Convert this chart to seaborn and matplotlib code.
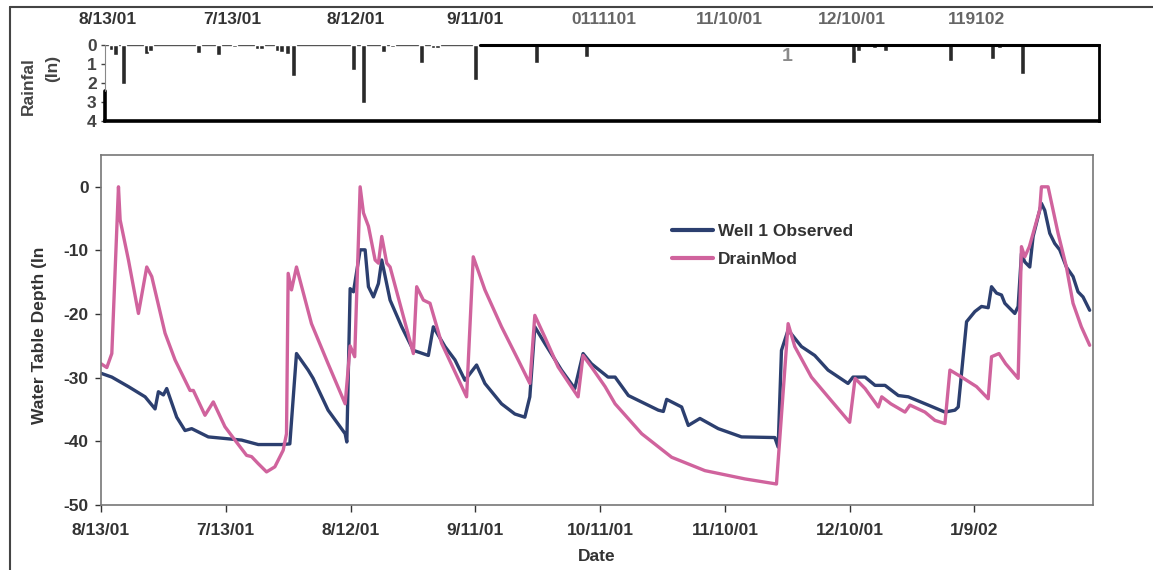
import matplotlib
matplotlib.use("Agg")
import matplotlib.pyplot as plt
from matplotlib.lines import Line2D
import numpy as np
import pandas as pd
import seaborn as sns

# ---- daily rainfall (inches), day index from start of record ----
rain_day = [2.5, 3.5, 5.5, 11, 12, 23.5, 28.3, 32, 37.5, 38.5, 42.5, 43.5, 44.8, 46.2,
            60.8, 63, 68, 70, 77, 80, 81, 90, 104.6, 116.8, 125,
            181, 182, 186, 188.5, 194.5, 204.3, 214.2, 216, 221.4]
rain_in = [0.25, 0.5, 2.05, 0.45, 0.3, 0.4, 0.55, 0.1, 0.2, 0.2, 0.3, 0.35, 0.45, 1.65,
           1.3, 3.05, 0.35, 0.1, 0.95, 0.15, 0.15, 1.85, 0.95, 0.65, 0.1,
           0.95, 0.3, 0.15, 0.3, 0.1, 0.85, 0.75, 0.15, 1.5]

# ---- observed water table depth, Well 1 (in) ----
obs_day = [0, 2.6, 6.6, 10.6, 13.0, 13.8, 15.0, 15.8, 18.2, 20.2, 21.8, 25.8, 30.6, 33.8,
           37.8, 43.4, 45.4, 47.0, 49.8, 51.0, 54.6, 58.7, 59.1, 59.9, 60.7, 62.3, 63.5,
           64.3, 65.5, 66.7, 67.5, 69.5, 72.3, 75.1, 78.7, 79.9, 82.7, 85.1, 87.5, 90.3,
           92.3, 96.3, 99.5, 101.9, 103.1, 104.3, 106.7, 110.7, 113.9, 115.9, 117.9,
           121.9, 123.6, 126.8, 134.0, 135.2, 136.0, 139.6, 141.2, 144.0, 148.4, 154.0,
           162.0, 162.8, 163.6, 165.2, 168.4, 171.6, 174.8, 179.6, 180.8, 183.7, 186.1,
           188.5, 191.7, 194.1, 198.9, 202.9, 205.3, 206.1, 208.1, 210.1, 211.7, 213.3,
           214.1, 215.3, 216.5, 217.3, 219.7, 220.5, 221.3, 222.1, 223.3, 224.1, 226.1,
           226.9, 228.1, 229.3, 230.5, 232.1, 233.7, 234.9, 236.1, 237.7]
obs_depth = [-29.3, -29.9, -31.4, -33.0, -34.9, -32.2, -32.7, -31.7, -36.2, -38.3, -38.0,
             -39.3, -39.6, -39.8, -40.5, -40.5, -40.4, -26.2, -28.8, -30.1, -35.1, -38.8,
             -40.1, -16.0, -16.5, -9.9, -9.9, -15.7, -17.3, -15.2, -11.5, -17.8, -22.0,
             -25.7, -26.5, -22.0, -25.1, -27.2, -30.4, -28.0, -30.9, -34.1, -35.7, -36.2,
             -33.0, -22.0, -24.6, -28.8, -31.7, -26.2, -27.8, -29.9, -29.9, -32.8, -35.1,
             -35.3, -33.4, -34.6, -37.5, -36.4, -38.0, -39.3, -39.4, -40.9, -25.7, -22.5,
             -25.1, -26.5, -28.8, -30.9, -29.9, -29.9, -31.2, -31.2, -32.8, -33.0, -34.3,
             -35.4, -35.1, -34.6, -21.2, -19.6, -18.8, -19.0, -15.7, -16.7, -17.0, -18.3,
             -19.9, -18.8, -10.5, -11.8, -12.6, -7.8, -2.6, -3.7, -7.3, -8.9, -9.9, -12.6,
             -14.1, -16.5, -17.3, -19.4]

# ---- DrainMod simulated water table depth (in) ----
sim_day = [0, 1.4, 2.6, 4.2, 4.6, 6.6, 9.0, 11.0, 12.2, 15.4, 17.8, 21.4, 22.2, 25.0, 27.0,
           29.8, 32.2, 35.0, 36.2, 37.8, 39.8, 41.8, 43.8, 44.6, 45.0, 45.8, 47.0, 50.6,
           54.6, 58.7, 59.9, 61.0, 62.3, 63.1, 64.3, 65.9, 66.7, 67.5, 68.7, 69.5, 75.1,
           75.9, 77.5, 79.1, 81.9, 87.9, 89.5, 92.3, 96.3, 100.3, 103.1, 104.3, 106.7,
           109.9, 114.7, 115.9, 117.9, 121.2, 123.6, 130.0, 137.2, 145.2, 154.8, 162.4,
           165.2, 166.8, 170.8, 174.8, 180.0, 181.3, 183.7, 186.9, 187.7, 189.9, 193.3,
           194.5, 198.1, 200.5, 202.9, 204.1, 206.9, 210.5, 213.3, 214.1, 215.9, 217.5,
           220.5, 221.3, 222.1, 223.2, 225.7, 226.1, 227.7, 230.1, 232.1, 233.7, 235.7,
           237.7]
sim_depth = [-27.8, -28.4, -26.2, 0.0, -5.2, -11.5, -19.9, -12.6, -14.1, -23.0, -27.2,
             -32.0, -32.0, -35.9, -33.8, -37.7, -39.8, -42.2, -42.4, -43.5, -44.8, -44.0,
             -41.4, -38.8, -13.6, -16.2, -12.6, -21.5, -27.8, -34.1, -25.0, -26.7, 0.0,
             -4.1, -6.2, -11.5, -12.0, -7.8, -12.0, -12.6, -26.2, -15.7, -17.8, -18.3,
             -24.6, -33.0, -11.0, -16.2, -22.0, -27.2, -30.9, -20.2, -23.6, -28.3, -33.0,
             -26.5, -28.3, -31.4, -34.1, -38.8, -42.5, -44.6, -45.9, -46.7, -21.5, -25.1,
             -29.9, -33.0, -37.0, -30.1, -31.7, -34.6, -33.0, -34.1, -35.4, -34.3, -35.4,
             -36.7, -37.2, -28.8, -29.9, -31.4, -33.3, -26.7, -26.2, -27.8, -30.1, -9.4,
             -11.0, -9.4, -3.6, 0.0, 0.0, -7.3, -12.6, -18.3, -22.0, -24.9]

# ---- axis ticks and labels ----
bottom_ticks = [0, 30, 60, 90, 120, 150, 180, 210]
bottom_labels = ["8/13/01", "7/13/01", "8/12/01", "9/11/01",
                 "10/11/01", "11/10/01", "12/10/01", "1/9/02"]
top_ticks = [1.5, 31.5, 61.3, 90, 121, 151, 180.5, 210.5]
top_labels = ["8/13/01", "7/13/01", "8/12/01", "9/11/01",
              "0111101", "11/10/01", "12/10/01", "119102"]
depth_ticks = [0, -10, -20, -30, -40, -50]
rain_ticks = [0, 1, 2, 3, 4]

series_names = ["Well 1 Observed", "DrainMod"]
series_colors = {"Well 1 Observed": "#2c3f6f", "DrainMod": "#d0639d"}

sns.set_style("white")
plt.rcParams["font.family"] = ["Liberation Sans", "DejaVu Sans"]
plt.rcParams["font.weight"] = "bold"
plt.rcParams["axes.labelweight"] = "bold"

W, H = 1153, 570
fig = plt.figure(figsize=(W / 100, H / 100), dpi=100)
ax_top = fig.add_axes([105 / W, 1 - 121 / H, 994 / W, 76 / H])
ax = fig.add_axes([101 / W, 1 - 505 / H, 992 / W, 350 / H])

txt = "#333333"

# ---------------- rainfall panel ----------------
ax_top.bar(rain_day, rain_in, width=1.2, color="#2a2a2a", align="center")
ax_top.set_xlim(0.96, 239.9)
ax_top.set_ylim(4, 0)
ax_top.xaxis.tick_top()
ax_top.set_xticks(top_ticks)
ax_top.set_xticklabels(top_labels)
for i, lab in enumerate(ax_top.get_xticklabels()):
    lab.set_color("#333333" if i < 4 else "#666666")
ax_top.tick_params(axis="x", length=0, pad=13, labelsize=12.5)
ax_top.set_yticks(rain_ticks)
ax_top.set_yticklabels([str(t) for t in rain_ticks])
ax_top.tick_params(axis="y", direction="out", length=3, width=1, pad=3,
                   labelsize=12.5, colors="#444444", left=True)
for s in ["left", "top"]:
    ax_top.spines[s].set_visible(False)
ax_top.spines["bottom"].set_linewidth(2.6)
ax_top.spines["bottom"].set_color("black")
ax_top.spines["right"].set_linewidth(2.0)
ax_top.spines["right"].set_color("black")
ax_top.axhline(0, color="#555555", lw=1.0, zorder=0.5)
ax_top.plot([91, 239.9], [0, 0], color="black", lw=2.2, clip_on=False)
ax_top.axvline(0.96, ymin=0, ymax=0.4, color="black", lw=2.6, clip_on=False)
ax_top.axvline(0.96, ymin=0.4, ymax=1.0, color="#888888", lw=0.8, clip_on=False)
ax_top.text(165, 0.6, "1", color="#8a8a8a", fontsize=14, ha="center", va="center")

fig.text(28 / W, 1 - 86 / H, "Rainfal", rotation=90, ha="center", va="center",
         fontsize=12.5, color="#444444")
fig.text(53 / W, 1 - 68 / H, "(In)", rotation=90, ha="center", va="center",
         fontsize=12.5, color="#444444")

# ---------------- water table panel ----------------
df = pd.concat([
    pd.DataFrame({"day": obs_day, "depth": obs_depth, "series": series_names[0]}),
    pd.DataFrame({"day": sim_day, "depth": sim_depth, "series": series_names[1]}),
], ignore_index=True)

sns.lineplot(data=df, x="day", y="depth", hue="series", hue_order=series_names,
             palette=series_colors, estimator=None, sort=False, linewidth=2.4, ax=ax)

ax.set_xlim(0, 238.5)
ax.set_ylim(-50, 5)
ax.set_xticks(bottom_ticks)
ax.set_xticklabels(bottom_labels)
ax.set_yticks(depth_ticks)
ax.set_yticklabels([str(t) for t in depth_ticks])
ax.tick_params(axis="x", direction="out", length=5, width=1, pad=8,
               labelsize=12.5, colors=txt, bottom=True)
ax.tick_params(axis="y", direction="out", length=4, width=1, pad=5,
               labelsize=12.5, colors=txt, left=True)
for s in ax.spines.values():
    s.set_color("#777777")
    s.set_linewidth(1.2)

ax.set_xlabel("Date", fontsize=12.5, color=txt, fontweight="bold")
ax.xaxis.set_label_coords(0.5, -0.125)
ax.set_ylabel("Water Table Depth (In", fontsize=12.5, color=txt, fontweight="bold")
ax.yaxis.set_label_coords(-0.0544, 0.486)

handles, labels = ax.get_legend_handles_labels()
leg = ax.legend(handles, labels, loc="upper left", bbox_to_anchor=(0.5756, 0.803),
                frameon=False, fontsize=12.5, handlelength=2.36, handletextpad=0.3,
                labelspacing=0.72, borderpad=0, borderaxespad=0)
for h in leg.get_lines():
    h.set_linewidth(3.0)
for t in leg.get_texts():
    t.set_color(txt)

# outer frame
fig.add_artist(Line2D([10 / W, 1], [1 - 7 / H, 1 - 7 / H], transform=fig.transFigure,
                      color="#444444", lw=1.5))
fig.add_artist(Line2D([10 / W, 10 / W], [0, 1 - 7 / H], transform=fig.transFigure,
                      color="#444444", lw=1.5))

fig.savefig("out.png", dpi=100)
